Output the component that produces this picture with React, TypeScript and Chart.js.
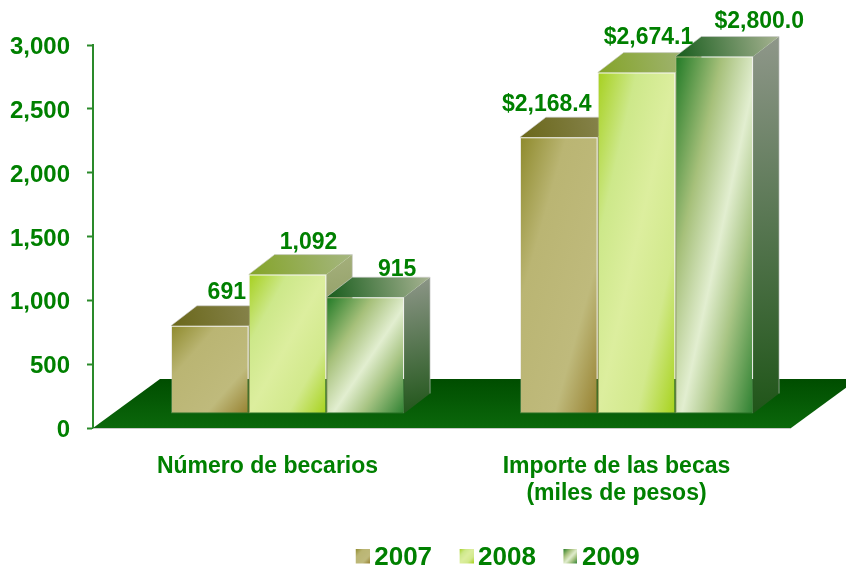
import React, { useEffect, useRef } from "react";
import { Chart, registerables } from "chart.js";

Chart.register(...registerables);

const categories = ["Número de becarios", ["Importe de las becas", "(miles de pesos)"]];
const seriesNames = ["2007", "2008", "2009"];
const values2007 = [691, 2168.4];
const values2008 = [1092, 2674.1];
const values2009 = [915, 2800.0];
const yTicks = [0, 500, 1000, 1500, 2000, 2500, 3000];

const GREEN = "#008000";
const FONT = "'Liberation Sans', Arial, sans-serif";
const BAR_SHIFT = { x: 20, y: -14 };
const DEPTH = { x: 26, y: -20 };
const FLOOR = { x: 67, y: -49 };
const CAT_PCT = 0.668;

type Stop = [number, string];
const frontStops: Stop[][] = [
  [[0, "#8e8a2c"], [0.3, "#bab573"], [0.72, "#bfba7c"], [1, "#96802f"]],
  [[0, "#a6d01f"], [0.25, "#cde88a"], [0.5, "#dcee9e"], [0.75, "#d2e98c"], [1, "#a6d21a"]],
  [[0, "#207a26"], [0.3, "#a6c07a"], [0.54, "#e2eed0"], [0.72, "#a9c585"], [1, "#2c8030"]],
];
const topStops: [string, string][] = [
  ["#6a671a", "#8d8a58"],
  ["#84a428", "#a5b680"],
  ["#175c1c", "#a7b392"],
];
const sideStops: [string, string][] = [
  ["#8d8a58", "#6f6c1c"],
  ["#a5b07c", "#6f8040"],
  ["#8f978a", "#1f5518"],
];

function diagonalGradient(ctx: CanvasRenderingContext2D, x: number, y: number, w: number, h: number, stops: Stop[]) {
  const len = Math.hypot(w, h) || 1;
  const nx = h / len;
  const ny = w / len;
  const reach = (w * h) / len;
  const cx = x + w / 2;
  const cy = y + h / 2;
  const g = ctx.createLinearGradient(cx - nx * reach, cy - ny * reach, cx + nx * reach, cy + ny * reach);
  stops.forEach(([o, c]) => g.addColorStop(o, c));
  return g;
}

function swatch(i: number) {
  const c = document.createElement("canvas");
  c.width = 18;
  c.height = 19;
  const ctx = c.getContext("2d")!;
  ctx.fillStyle = diagonalGradient(ctx, 4, 0, 14, 15, frontStops[i]);
  ctx.fillRect(4, 0, 14, 15);
  return c;
}

function frontFill(datasetIndex: number) {
  return (context: any) => {
    const chart = context.chart;
    const { x, y } = chart.scales;
    if (!x || !y || context.dataIndex === undefined || context.raw === undefined) return "#999";
    const catW = x.getPixelForValue(1) - x.getPixelForValue(0);
    if (!catW) return "#999";
    const w = (catW * CAT_PCT) / 3;
    const left = x.getPixelForValue(context.dataIndex) + (datasetIndex - 1.5) * w;
    const top = y.getPixelForValue(context.raw);
    const base = y.getPixelForValue(0);
    return diagonalGradient(chart.ctx, left, top, w, base - top, frontStops[datasetIndex]);
  };
}

const formatLabel = (v: number, cat: number) =>
  cat === 0
    ? v.toLocaleString("en-US")
    : "$" + v.toLocaleString("en-US", { minimumFractionDigits: 1, maximumFractionDigits: 1 });

const labelOffsets = [
  [[17, -33], [-12, -33]],
  [[21, -32], [12, -35]],
  [[32, -28], [45, -35]],
];

const scenePlugin = {
  id: "scene",
  afterLayout(chart: any) {
    const lg = chart.legend;
    const dx = 500 - (lg.left + lg.right) / 2;
    lg.left += dx;
    lg.right += dx;
    const padding = lg.options.labels.padding;
    const dy = 558 - (lg.top + padding + 13);
    lg.top += dy;
    lg.bottom += dy;
    lg.adjustHitBoxes && lg.adjustHitBoxes();
    chart.scales.x.bottom = 525;
  },
  beforeDraw(chart: any) {
    // tick digits sit slightly below their tick marks
    chart.scales.y.getLabelItems().forEach((item: any) => {
      if (!item.nudged) {
        item.options.translation = [item.options.translation[0], item.options.translation[1] + 2.5];
        item.nudged = true;
      }
    });
  },
  beforeDatasetsDraw(chart: any) {
    const { ctx, chartArea: a } = chart;
    ctx.save();
    // floor
    const g = ctx.createLinearGradient(0, a.bottom + FLOOR.y, 0, a.bottom);
    g.addColorStop(0, "#004d00");
    g.addColorStop(1, "#0b680b");
    ctx.fillStyle = g;
    ctx.beginPath();
    ctx.moveTo(a.left, a.bottom);
    ctx.lineTo(a.left + FLOOR.x, a.bottom + FLOOR.y);
    ctx.lineTo(a.right + FLOOR.x, a.bottom + FLOOR.y);
    ctx.lineTo(a.right, a.bottom);
    ctx.closePath();
    ctx.fill();
    ctx.strokeStyle = "rgba(190,190,190,0.8)";
    ctx.lineWidth = 1;
    ctx.beginPath();
    ctx.moveTo(a.left, a.bottom + 0.5);
    ctx.lineTo(a.right, a.bottom + 0.5);
    ctx.stroke();
    ctx.restore();

    ctx.save();
    ctx.translate(BAR_SHIFT.x, BAR_SHIFT.y);
    // receding faces, left to right
    chart.data.datasets.forEach((_: any, di: number) => {
      chart.getDatasetMeta(di).data.forEach((bar: any) => {
        const l = bar.x - bar.width / 2;
        const r = bar.x + bar.width / 2;
        const t = bar.y;
        const b = bar.base;
        // side
        const sg = ctx.createLinearGradient(r, t + DEPTH.y, r + DEPTH.x, b);
        sg.addColorStop(0, sideStops[di][0]);
        sg.addColorStop(1, sideStops[di][1]);
        ctx.fillStyle = sg;
        ctx.beginPath();
        ctx.moveTo(r, t);
        ctx.lineTo(r + DEPTH.x, t + DEPTH.y);
        ctx.lineTo(r + DEPTH.x, b + DEPTH.y);
        ctx.lineTo(r, b);
        ctx.closePath();
        ctx.fill();
        // top
        const tg = ctx.createLinearGradient(l, t, r + DEPTH.x, t + DEPTH.y);
        tg.addColorStop(0, topStops[di][0]);
        tg.addColorStop(1, topStops[di][1]);
        ctx.fillStyle = tg;
        ctx.beginPath();
        ctx.moveTo(l, t);
        ctx.lineTo(l + DEPTH.x, t + DEPTH.y);
        ctx.lineTo(r + DEPTH.x, t + DEPTH.y);
        ctx.lineTo(r, t);
        ctx.closePath();
        ctx.fill();
        // pale outer edge
        ctx.strokeStyle = "rgba(205,205,205,0.6)";
        ctx.lineWidth = 1;
        ctx.beginPath();
        ctx.moveTo(l, t);
        ctx.lineTo(l + DEPTH.x, t + DEPTH.y);
        ctx.lineTo(r + DEPTH.x, t + DEPTH.y);
        ctx.lineTo(r + DEPTH.x, b + DEPTH.y);
        ctx.stroke();
      });
    });
  },
  afterDatasetsDraw(chart: any) {
    const { ctx } = chart;
    ctx.restore();
    ctx.save();
    ctx.fillStyle = GREEN;
    ctx.font = `bold 23px ${FONT}`;
    ctx.textAlign = "center";
    ctx.textBaseline = "middle";
    chart.data.datasets.forEach((ds: any, di: number) => {
      chart.getDatasetMeta(di).data.forEach((bar: any, ci: number) => {
        const [ox, oy] = labelOffsets[di][ci];
        ctx.fillText(formatLabel(ds.data[ci], ci), bar.x + BAR_SHIFT.x + ox, bar.y + BAR_SHIFT.y + oy);
      });
    });
    ctx.restore();
  },
};

export default function App() {
  const ref = useRef<HTMLCanvasElement>(null);
  useEffect(() => {
    const seriesValues = [values2007, values2008, values2009];
    const chart = new Chart(ref.current!, {
      type: "bar",
      data: {
        labels: categories as any,
        datasets: seriesNames.map((name, i) => ({
          label: name,
          data: seriesValues[i],
          backgroundColor: frontFill(i),
          borderColor: "rgba(205,205,195,0.3)",
          borderWidth: 1,
          borderSkipped: false,
          barPercentage: 1,
          categoryPercentage: CAT_PCT,
          clip: false as any,
          pointStyle: swatch(i) as any,
        })),
      },
      options: {
        responsive: false,
        animation: false,
        layout: { padding: { right: 55, top: 45, left: 0, bottom: 0 } },
        plugins: {
          tooltip: { enabled: false },
          legend: {
            display: true,
            position: "bottom",
            labels: {
              usePointStyle: true,
              boxWidth: 1,
              padding: 32,
              color: GREEN,
              font: { family: FONT, size: 26, weight: "bold" },
            },
          },
        },
        scales: {
          x: {
            grid: { display: false },
            border: { display: false },
            ticks: {
              color: GREEN,
              padding: 17,
              maxRotation: 0,
              font: { family: FONT, size: 23, weight: "bold", lineHeight: 1.17 },
            },
            afterFit: (s: any) => {
              s.height = 73;
            },
          },
          y: {
            min: 0,
            max: 3000,
            afterBuildTicks: (s: any) => {
              s.ticks = yTicks.map((value) => ({ value }));
            },
            grid: {
              drawOnChartArea: false,
              drawTicks: true,
              tickLength: 6,
              tickColor: "#2a8a2a",
              tickWidth: 2,
            },
            border: { display: true, color: "#2a8a2a", width: 2 },
            ticks: {
              color: GREEN,
              padding: 17,
              font: { family: FONT, size: 24, weight: "bold" },
              callback: (v: any) => Number(v).toLocaleString("en-US"),
            },
            afterFit: (s: any) => {
              s.width = 93;
            },
          },
        },
      },
      plugins: [scenePlugin],
    } as any);
    return () => chart.destroy();
  }, []);
  return (
    <canvas
      ref={ref}
      width={846}
      height={569}
      style={{ position: "absolute", left: 0, top: 0, display: "block" }}
    />
  );
}
